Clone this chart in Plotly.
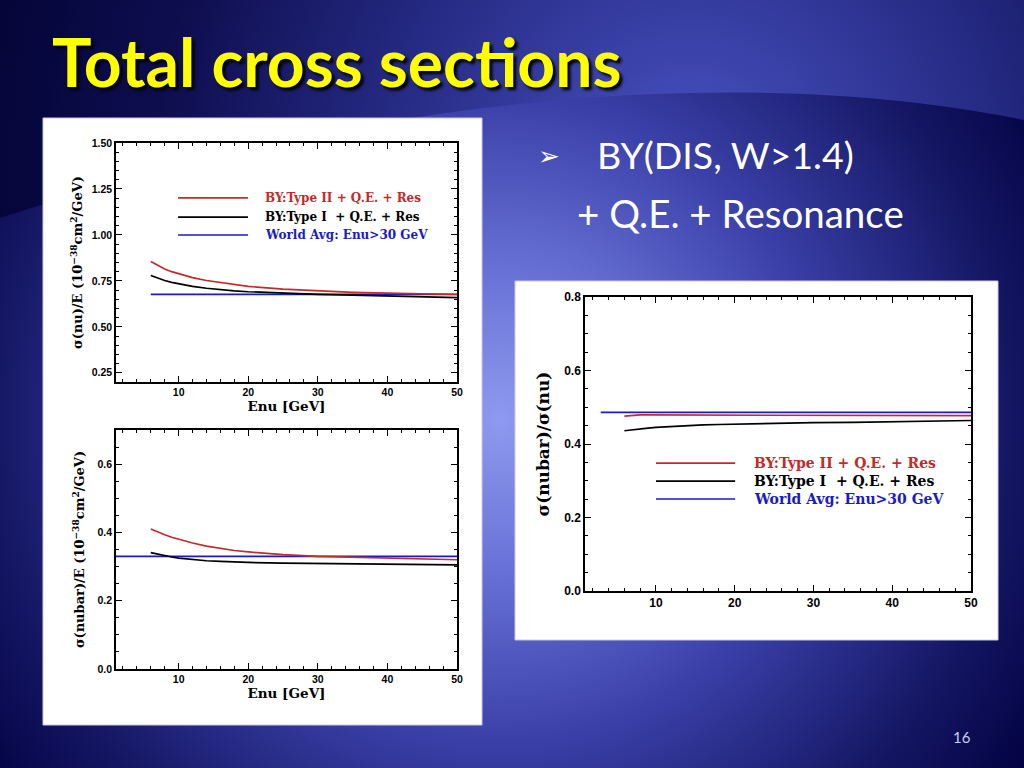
import base64
import plotly.graph_objects as go

# ---------------- data ----------------
energy = [6, 7, 8, 9, 10, 12, 14, 16, 18, 20, 25, 30, 35, 40, 45, 50]

nu_type2 = [0.855, 0.835, 0.815, 0.800, 0.788, 0.768, 0.752, 0.740, 0.730, 0.720, 0.705, 0.695, 0.688, 0.683, 0.679, 0.676]
nu_type1 = [0.779, 0.765, 0.752, 0.742, 0.734, 0.720, 0.710, 0.702, 0.696, 0.691, 0.683, 0.677, 0.672, 0.668, 0.663, 0.659]
nu_world_x = [6, 50]
nu_world = [0.677, 0.677]

nubar_type2 = [0.410, 0.401, 0.393, 0.386, 0.380, 0.369, 0.360, 0.353, 0.347, 0.343, 0.335, 0.330, 0.327, 0.325, 0.322, 0.320]
nubar_type1 = [0.341, 0.336, 0.332, 0.328, 0.325, 0.320, 0.317, 0.315, 0.313, 0.312, 0.310, 0.309, 0.308, 0.307, 0.306, 0.305]
nubar_world_x = [1, 50]
nubar_world = [0.330, 0.330]

ratio_type2 = [0.476, 0.478, 0.479, 0.479, 0.479, 0.479, 0.479, 0.478, 0.478, 0.478, 0.477, 0.477, 0.477, 0.477, 0.477, 0.477]
ratio_type1 = [0.436, 0.439, 0.441, 0.443, 0.445, 0.448, 0.450, 0.452, 0.453, 0.454, 0.456, 0.458, 0.459, 0.461, 0.462, 0.464]
ratio_world_x = [3, 50]
ratio_world = [0.486, 0.486]

series_names = ["BY:Type II + Q.E. + Res", "BY:Type I  + Q.E. + Res", "World Avg: Enu>30 GeV"]
series_colors = ["#c42a2a", "#000000", "#1a1ac8"]

title_text = "Total cross sections"
bullet1 = "BY(DIS, W>1.4)"
bullet2 = "+ Q.E. + Resonance"
page_no = "16"

# ---------------- background ----------------
svg = """<svg xmlns='http://www.w3.org/2000/svg' width='1024' height='768' viewBox='0 0 1024 768' preserveAspectRatio='none'>
<defs>
<radialGradient id='g1' cx='500' cy='420' r='640' gradientUnits='userSpaceOnUse'>
<stop offset='0' stop-color='#8e9aee'/>
<stop offset='0.22' stop-color='#6a74d8'/>
<stop offset='0.5' stop-color='#3a40a8'/>
<stop offset='0.8' stop-color='#141662'/>
<stop offset='1' stop-color='#000040'/>
</radialGradient>
<radialGradient id='g2' cx='690' cy='170' r='700' gradientUnits='userSpaceOnUse'>
<stop offset='0' stop-color='#4a54c4'/>
<stop offset='0.4' stop-color='#282d88'/>
<stop offset='0.75' stop-color='#0e0e50'/>
<stop offset='1' stop-color='#05053a'/>
</radialGradient>
</defs>
<rect width='1024' height='768' fill='url(#g1)'/>
<path d='M0,0 H1024 V120 C780,70 420,80 0,218 Z' fill='url(#g2)'/>
</svg>"""
bg_src = "data:image/svg+xml;base64," + base64.b64encode(svg.encode()).decode()

W, H = 1024, 768


def px_x(a, b):
    return [a / W, b / W]


def px_y(top, bottom):
    return [1 - bottom / H, 1 - top / H]


fig = go.Figure()

panels = [
    ("x", "y", energy, nu_type2, nu_type1, nu_world_x, nu_world),
    ("x2", "y2", energy, nubar_type2, nubar_type1, nubar_world_x, nubar_world),
    ("x3", "y3", energy, ratio_type2, ratio_type1, ratio_world_x, ratio_world),
]
for xa, ya, ex, r2, r1, wx, wv in panels:
    fig.add_trace(go.Scatter(x=wx, y=wv, mode="lines", xaxis=xa, yaxis=ya,
                             line=dict(color=series_colors[2], width=1.7), name=series_names[2], showlegend=False))
    fig.add_trace(go.Scatter(x=ex, y=r1, mode="lines", xaxis=xa, yaxis=ya,
                             line=dict(color=series_colors[1], width=1.7), name=series_names[1], showlegend=False))
    fig.add_trace(go.Scatter(x=ex, y=r2, mode="lines", xaxis=xa, yaxis=ya,
                             line=dict(color=series_colors[0], width=1.7), name=series_names[0], showlegend=False))

SERIF = "DejaVu Serif"
tickfont = dict(family="Liberation Sans", size=10.5, color="black", weight="bold")
tickfont_big = dict(family="Liberation Sans", size=12, color="black", weight="bold")
titlefont = dict(family=SERIF, size=13.5, color="black", weight="bold")


def xaxis(dom, anchor, tf, title=None):
    d = dict(domain=dom, anchor=anchor, range=[1, 50], tick0=10, dtick=10,
             showline=True, linecolor="black", linewidth=1.5, mirror="allticks",
             ticks="inside", ticklen=6, tickwidth=1.2, tickcolor="black",
             showgrid=False, zeroline=False, tickfont=tf, automargin=False,
             minor=dict(ticks="inside", ticklen=3, tickwidth=1, tickcolor="black", dtick=2, tick0=0, showgrid=False))
    if title:
        d["title"] = dict(text=title, font=titlefont, standoff=2)
    return d


def yaxis(dom, anchor, rng, dtick, tick0, fmt, title, tsize, tf, standoff):
    return dict(domain=dom, anchor=anchor, range=rng, tick0=tick0, dtick=dtick, tickformat=fmt,
                showline=True, linecolor="black", linewidth=1.5, mirror="allticks",
                ticks="inside", ticklen=6, tickwidth=1.2, tickcolor="black",
                showgrid=False, zeroline=False, tickfont=tf, automargin=False,
                minor=dict(ticks="inside", ticklen=3, tickwidth=1, tickcolor="black", dtick=0.05, showgrid=False),
                title=dict(text=title, font=dict(family=SERIF, size=tsize, color="black", weight="bold"),
                           standoff=standoff))


fig.update_layout(
    width=W, height=H, autosize=False,
    margin=dict(l=0, r=0, t=0, b=0, pad=0, autoexpand=False),
    paper_bgcolor="#0a0a40", plot_bgcolor="white",
    xaxis=xaxis(px_x(116, 457), "y", tickfont, "Enu [GeV]"),
    yaxis=yaxis(px_y(143, 382), "x", [0.2, 1.5], 0.25, 0.25, ".2f",
                "σ(nu)/E (10<sup>−38</sup>cm<sup>2</sup>/GeV)", 13, tickfont, 6),
    xaxis2=xaxis(px_x(116, 457), "y2", tickfont, "Enu [GeV]"),
    yaxis2=yaxis(px_y(430, 669), "x2", [0, 0.7], 0.2, 0, ".1f",
                 "σ(nubar)/E (10<sup>−38</sup>cm<sup>2</sup>/GeV)", 13, tickfont, 10),
    xaxis3=xaxis(px_x(585, 971), "y3", tickfont_big),
    yaxis3=yaxis(px_y(297, 591), "x3", [0, 0.8], 0.2, 0, ".1f", "σ(nubar)/σ(nu)", 17, tickfont_big, 10),
)

fig.add_layout_image(dict(source=bg_src, xref="paper", yref="paper", x=0, y=1, sizex=1, sizey=1,
                          xanchor="left", yanchor="top", sizing="stretch", layer="below"))

# white panels
for (x0, x1, y0, y1) in [(43, 482, 118, 725), (515, 998, 281, 640)]:
    fx = px_x(x0, x1)
    fy = px_y(y0, y1)
    fig.add_shape(type="rect", xref="paper", yref="paper", x0=fx[0], x1=fx[1], y0=fy[0], y1=fy[1],
                  fillcolor="white", line=dict(color="#c8c8e8", width=1), layer="below")

# in-plot legends
legend_specs = [
    ("x", "y", [0.182, 0.387], [0.770, 0.690, 0.615], 0.431, 12),
    ("x3", "y3", [0.184, 0.389], [0.435, 0.374, 0.313], 0.433, 14),
]
for xa, ya, (lx0, lx1), ys, tx, fs in legend_specs:
    for name, col, yy in zip(series_names, series_colors, ys):
        fig.add_shape(type="line", xref=xa + " domain", yref=ya + " domain", x0=lx0, x1=lx1, y0=yy, y1=yy,
                      line=dict(color=col, width=1.7))
        fig.add_annotation(xref=xa + " domain", yref=ya + " domain", x=tx, y=yy, text=name.replace("  ", "&nbsp; "),
                           showarrow=False, xanchor="left", yanchor="middle",
                           font=dict(family=SERIF, size=fs, color=col, weight="bold"))

# slide texts
fig.add_annotation(xref="paper", yref="paper", x=50 / W, y=1 - 62 / H, text=title_text, showarrow=False,
                   xanchor="left", yanchor="middle",
                   font=dict(family="Lato", size=66, color="#ffff00", weight="bold", shadow="3px 3px 3px #000000"))
fig.add_annotation(xref="paper", yref="paper", x=536 / W, y=1 - 156 / H, text="➢", showarrow=False,
                   xanchor="left", yanchor="middle", font=dict(family="DejaVu Sans", size=26, color="white"))
fig.add_annotation(xref="paper", yref="paper", x=595 / W, y=1 - 155 / H, text=bullet1, showarrow=False,
                   xanchor="left", yanchor="middle", font=dict(family="Lato", size=37.5, color="white"))
fig.add_annotation(xref="paper", yref="paper", x=575 / W, y=1 - 213 / H, text=bullet2, showarrow=False,
                   xanchor="left", yanchor="middle", font=dict(family="Lato", size=38.5, color="white"))
fig.add_annotation(xref="paper", yref="paper", x=962 / W, y=1 - 737 / H, text=page_no, showarrow=False,
                   xanchor="center", yanchor="middle", font=dict(family="Lato", size=15, color="#c8cef2"))

fig.write_html("out.html", config={"displayModeBar": False},
               post_script="document.body.style.margin='0';document.body.style.overflow='hidden';")
